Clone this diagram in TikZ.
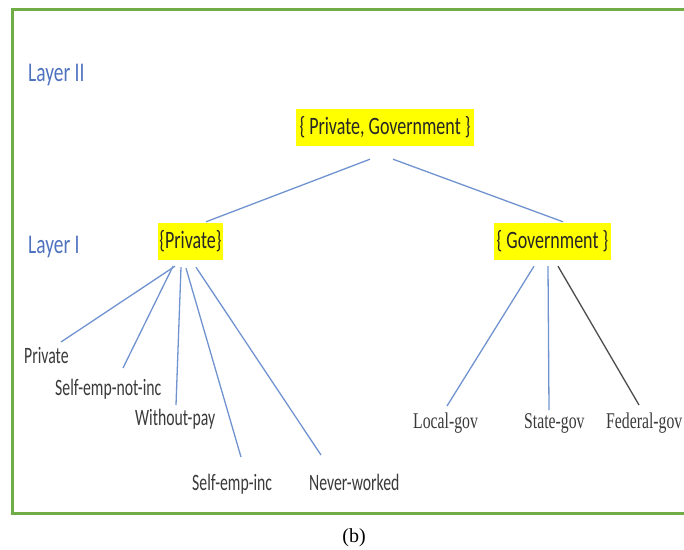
\documentclass[tikz,border=0pt]{standalone}
\usepackage{fontspec}
\setmainfont{Liberation Serif}
\newfontfamily\calib[FakeStretch=0.72]{Carlito}
\newfontfamily\calibnarrow[FakeStretch=0.67]{Carlito}
\newfontfamily\camb[FakeStretch=0.70]{Liberation Serif}
\definecolor{framegreen}{HTML}{70AD47}
\definecolor{layerblue}{HTML}{4F72BE}
\definecolor{edgeblue}{HTML}{7093D0}
\definecolor{labelgray}{HTML}{3A3A3A}
\definecolor{hilite}{HTML}{FFFF00}
\tikzset{
  setbox/.style={fill=hilite, inner sep=0pt, minimum height=37pt,
    font=\calib\fontsize{25}{25}\selectfont, text=black!85},
  layerlbl/.style={anchor=base west, inner sep=0pt, text=layerblue,
    font=\calib\fontsize{27}{27}\selectfont},
  leaf/.style={anchor=base west, inner sep=0pt, text=labelgray,
    font=\calibnarrow\fontsize{23.5}{23.5}\selectfont},
  govleaf/.style={anchor=base west, inner sep=0pt, text=labelgray,
    font=\camb\fontsize{22.5}{22.5}\selectfont},
  edge/.style={draw=edgeblue, line width=1.3pt},
  darkedge/.style={draw=black!70, line width=1.3pt},
}
\begin{document}
\begin{tikzpicture}[x=1pt, y=-1pt]
\useasboundingbox (0,0) rectangle (684,549);
% outer frame (its right side runs past the page edge)
\draw[framegreen, line width=3pt] (695,9) -- (12,9) -- (12,513) -- (695,513);

% layer captions
\node[layerlbl] (layer2) at (28,81) {Layer II};
\node[layerlbl] (layer1) at (28,253) {Layer I};

% set nodes
\node[setbox, minimum width=178pt] (top) at (385,127.5) {\{ Private, Government \}};
\node[setbox, minimum width=65pt] (prv) at (190.5,241.5) {\{Private\}};
\node[setbox, minimum width=117pt] (gov) at (552.5,241.5) {\{ Government \}};

% leaves of {Private}
\node[leaf] (lpriv) at (24,363) {Private};
\node[leaf] (lsenc) at (55,395) {Self-emp-not-inc};
\node[leaf] (lwp) at (135,425) {Without-pay};
\node[leaf] (lsei) at (192,490) {Self-emp-inc};
\node[leaf] (lnw) at (309,490) {Never-worked};

% leaves of {Government}
\node[govleaf] (lloc) at (413,428) {Local-gov};
\node[govleaf] (lsta) at (524,428) {State-gov};
\node[govleaf] (lfed) at (606,428) {Federal-gov};

% caption
\node[font=\fontsize{20}{20}\selectfont, inner sep=0pt] (cap) at (354,538) {(b)};

% top level
\draw[edge] ([shift={(-15,13)}]top.south) -- ([shift={(15.5,-1)}]prv.north);
\draw[edge] ([shift={(8,13)}]top.south) -- ([shift={(10.5,-1)}]gov.north);

% private branch
\draw[edge] ([shift={(-15.5,6)}]prv.south) -- ([shift={(37,-21)}]lpriv.base west);
\draw[edge] ([shift={(-17.5,6)}]prv.south) -- ([shift={(68,-27)}]lsenc.base west);
\draw[edge] ([shift={(-9.5,7)}]prv.south) -- ([shift={(41,-20)}]lwp.base west);
\draw[edge] ([shift={(-4.5,8)}]prv.south) -- ([shift={(49,-33)}]lsei.base west);
\draw[edge] ([shift={(5.5,7)}]prv.south) -- ([shift={(12,-35)}]lnw.base west);

% government branch
\draw[edge] ([shift={(-18.5,6)}]gov.south) -- ([shift={(34,-22)}]lloc.base west);
\draw[edge] ([shift={(-4.5,6)}]gov.south) -- ([shift={(25,-18)}]lsta.base west);
\draw[darkedge] ([shift={(5.5,6)}]gov.south) -- ([shift={(33,-23)}]lfed.base west);
\end{tikzpicture}
\end{document}
